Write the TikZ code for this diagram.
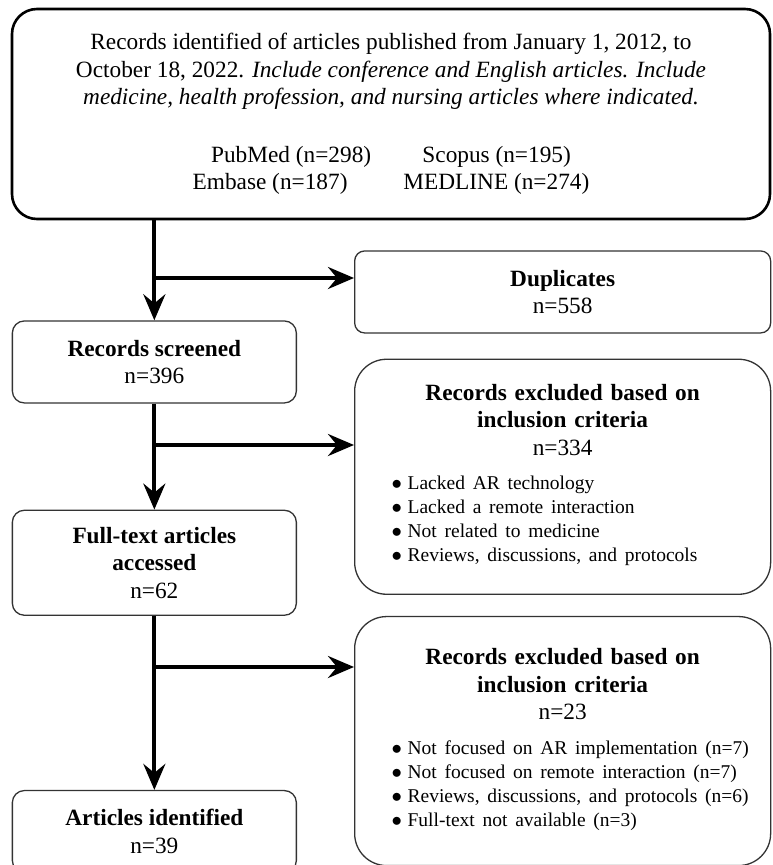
\documentclass[tikz,border=0pt]{standalone}
\usepackage{fontspec}
\setmainfont{Liberation Serif}
\usetikzlibrary{arrows.meta, positioning}

\newcommand{\blt}{\makebox[16pt][l]{$\bullet$}}

\begin{document}
\begin{tikzpicture}[
  x=1pt, y=1pt,
  font=\fontsize{23.3}{27.5}\selectfont,
  srcbox/.style={rectangle, rounded corners=25pt, draw=black, line width=2.6pt,
                 minimum width=758pt, minimum height=210pt, align=center},
  stepbox/.style={rectangle, rounded corners=12pt, draw=black!80, line width=1.3pt,
                  minimum width=284pt, align=center},
  exbox/.style={rectangle, rounded corners=32pt, draw=black!80, line width=1.3pt,
                minimum width=416pt, text width=380pt, align=center},
  dupbox/.style={rectangle, rounded corners=10pt, draw=black!80, line width=1.3pt,
                 minimum width=416pt, minimum height=82pt, align=center},
  arr/.style={-{Stealth[length=26pt, width=22pt, inset=9pt]}, line width=4pt}
]
\useasboundingbox (0,0) rectangle (772,-865);

\node[srcbox] (src) at (391,-114) {Records identified of articles published from January 1, 2012, to\\
  October 18, 2022. \textit{Include conference and English articles. Include}\\
  \textit{medicine, health profession, and nursing articles where indicated.}\\[30pt]
  PubMed (n=298)\hspace{2.2em}Scopus (n=195)\\
  Embase (n=187)\hspace{2.4em}MEDLINE (n=274)};

% main column
\node[stepbox, minimum height=82pt, below=100pt of src.south west, anchor=north west, xshift=1pt] (screened) {\textbf{Records screened}\\n=396};
\node[stepbox, minimum height=105pt, below=106pt of screened] (fulltext) {\textbf{Full-text articles}\\\textbf{accessed}\\n=62};
\node[stepbox, minimum height=82pt, below=174pt of fulltext] (articles) {\textbf{Articles identified}\\n=39};

% excluded records
\node[dupbox, below=30pt of src.south east, anchor=north east] (dup) {\textbf{Duplicates}\\n=558};
\node[exbox, minimum height=235pt, below=25pt of dup.south east, anchor=north east] (excl1) {\textbf{Records excluded based on}\\\textbf{inclusion criteria}\\n=334\\[7pt]
  \makebox[\linewidth][l]{\hspace{19pt}\fontsize{19.5}{24}\selectfont\begin{tabular}[t]{@{}l@{}}
    \blt Lacked AR technology\\
    \blt Lacked a remote interaction\\
    \blt Not related to medicine\\
    \blt Reviews, discussions, and protocols
  \end{tabular}}};
\node[exbox, minimum height=249pt, below=21pt of excl1.south east, anchor=north east] (excl2) {\textbf{Records excluded based on}\\\textbf{inclusion criteria}\\n=23\\[7pt]
  \makebox[\linewidth][l]{\hspace{19pt}\fontsize{19.5}{24}\selectfont\begin{tabular}[t]{@{}l@{}}
    \blt Not focused on AR implementation (n=7)\\
    \blt Not focused on remote interaction (n=7)\\
    \blt Reviews, discussions, and protocols (n=6)\\
    \blt Full-text not available (n=3)
  \end{tabular}}};

\coordinate (b1) at (154,-278);
\coordinate (b2) at (154,-445);
\coordinate (b3) at (154,-667);

\draw[arr] (src.south -| screened.north) -- (screened.north);
\draw[arr] (screened) -- (fulltext);
\draw[arr] (fulltext) -- (articles);

\draw[arr] (b1) -- (b1 -| dup.west);
\draw[arr] (b2) -- (b2 -| excl1.west);
\draw[arr] (b3) -- (b3 -| excl2.west);

\end{tikzpicture}
\end{document}
